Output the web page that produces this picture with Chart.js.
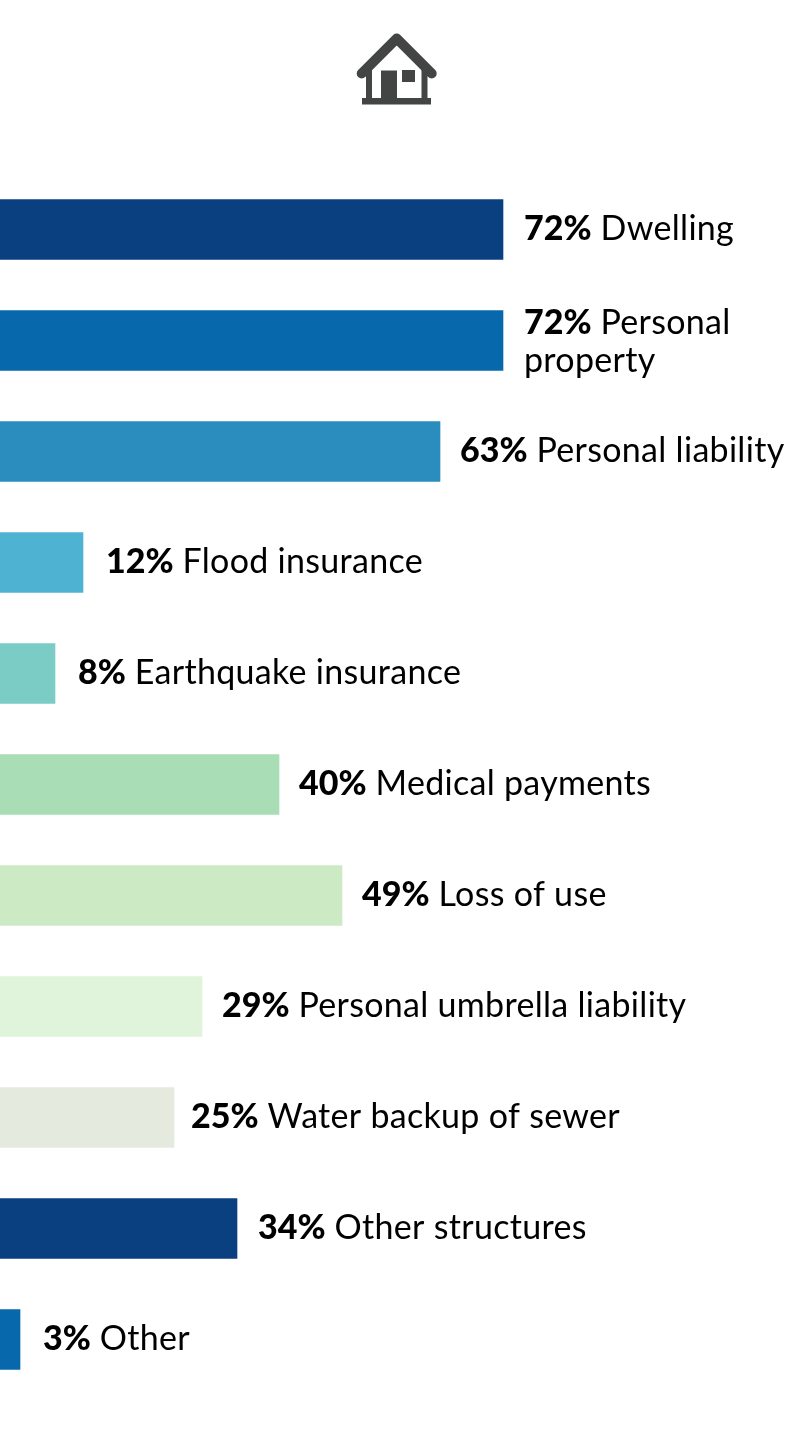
<!DOCTYPE html>
<html lang="en">
<head>
  <meta charset="UTF-8">
  <title>Coverage types</title>
  <style>
    body { margin: 0; background: #fff; }
    .wrap { position: relative; width: 800px; height: 1434px; overflow: hidden; }
    canvas { position: absolute; left: 0; top: 0; }
    .icon { position: absolute; left: 340px; top: 20px; }
  </style>
  <script src="https://cdn.jsdelivr.net/npm/chart.js"></script>
</head>
<body>
<div class="wrap">
  <canvas id="coverageChart" width="800" height="1434"></canvas>
  <!-- house icon -->
  <svg class="icon" width="110" height="95" viewBox="0 0 110 95">
    <path d="M21.700 53.500 L56.700 18.500 L91.700 53.500" fill="none" stroke="#434544" stroke-width="10" stroke-linecap="round" stroke-linejoin="round"/>
    <rect x="26" y="44" width="6" height="36" fill="#434544"/>
    <rect x="81.500" y="44" width="6" height="36" fill="#434544"/>
    <rect x="22" y="78" width="69" height="6.500" fill="#434544"/>
    <rect x="41" y="50.500" width="16" height="28" fill="#434544"/>
    <rect x="62" y="50" width="13" height="12" fill="#434544"/>
  </svg>
</div>

<script>
  const categories = ['Dwelling', ['Personal', 'property'], 'Personal liability', 'Flood insurance',
    'Earthquake insurance', 'Medical payments', 'Loss of use', 'Personal umbrella liability',
    'Water backup of sewer', 'Other structures', 'Other'];
  const values = [72, 72, 63, 12, 8, 40, 49, 29, 25, 34, 3];
  const barColors = ['#0a3f80', '#0768ac', '#2b8cbe', '#4eb3d3', '#7bccc4', '#a8ddb5',
    '#ccebc5', '#e0f3db', '#e4eadd', '#0a3f80', '#0768ac'];

  const pctFont = '900 34px Lato';
  const nameFont = '400 34px Lato';

  // Percent in heavy type, then the name, to the right of each bar
  const barLabels = {
    id: 'barLabels',
    afterDatasetsDraw(chart) {
      const ctx = chart.ctx;
      const bars = chart.getDatasetMeta(0).data;
      const nudge = { 2: -1, 3: 2, 4: 2, 5: -1, 6: -1, 7: -1, 8: -4, 10: 2 };
      ctx.save();
      ctx.fillStyle = '#000';
      ctx.textBaseline = 'middle';
      bars.forEach((bar, i) => {
        const name = categories[i];
        const pct = values[i] + '%';
        const x = bar.x + 21 + (nudge[i] || 0);
        ctx.font = pctFont;
        ctx.letterSpacing = '0px';
        const pctWidth = ctx.measureText(pct).width;
        if (Array.isArray(name)) {
          ctx.fillText(pct, x, bar.y - 17);
          ctx.font = nameFont;
          ctx.letterSpacing = '0.3px';
          ctx.fillText(name[0], x + pctWidth + 9, bar.y - 17);
          ctx.fillText(name[1], x, bar.y + 21);
        } else {
          ctx.fillText(pct, x, bar.y);
          ctx.font = nameFont;
          ctx.letterSpacing = '0.3px';
          ctx.fillText(name, x + pctWidth + 9, bar.y);
        }
      });
      ctx.restore();
    }
  };

  new Chart(document.getElementById('coverageChart').getContext('2d'), {
    type: 'bar',
    data: {
      labels: categories,
      datasets: [{
        data: values,
        backgroundColor: barColors,
        borderWidth: 0,
        barThickness: 60
      }]
    },
    options: {
      indexAxis: 'y',
      responsive: false,
      animation: false,
      layout: { padding: { top: 174, bottom: 39 } },
      scales: {
        x: { display: false, min: 0.143, max: 114.43 },
        y: { display: false }
      },
      plugins: { legend: { display: false }, tooltip: { enabled: false } }
    },
    plugins: [barLabels]
  });
</script>
</body>
</html>
